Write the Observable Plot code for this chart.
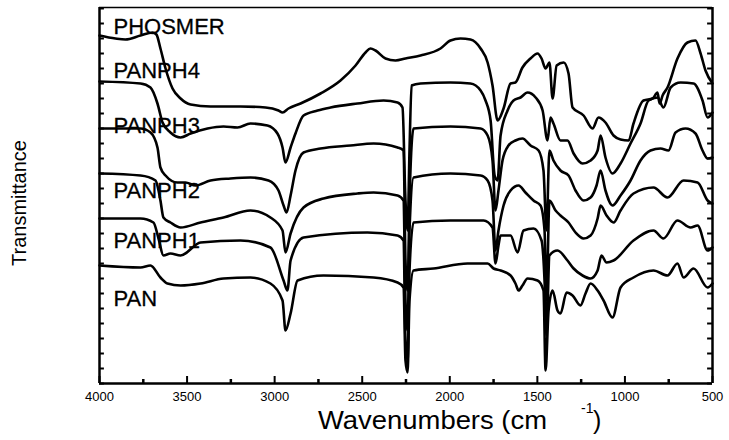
<!DOCTYPE html>
<html><head><meta charset="utf-8">
<script src="https://cdn.jsdelivr.net/npm/d3@7"></script>
<script src="https://cdn.jsdelivr.net/npm/@observablehq/plot@0.6"></script>
<style>body{margin:0;background:#fff}#chart{width:729px;height:440px}</style>
</head><body><div id="chart"></div>
<script>
const seriesNames = ["PHOSMER", "PANPH4", "PANPH3", "PANPH2", "PANPH1", "PAN"];

// [wavenumber (cm-1), transmittance (arb. units, stacked)]
const phosmer = [[4000,348],[3909,345],[3852,344],[3766,348],[3697,351],[3675,349],[3652,335],[3623,315],[3583,295],[3537,285],[3480,279],[3366,277],[3195,277],[3052,276],[2978,273],[2955,271],[2921,275],[2852,280],[2738,290],[2624,303],[2538,318],[2481,331],[2453,335],[2424,333],[2367,325],[2310,323],[2253,325],[2167,328],[2053,335],[1996,343],[1939,345],[1882,344],[1824,335],[1784,321],[1756,298],[1727,263],[1693,275],[1653,300],[1625,301],[1585,316],[1539,325],[1499,330],[1476,325],[1453,315],[1431,321],[1413,285],[1390,318],[1350,321],[1322,310],[1299,276],[1236,268],[1185,255],[1151,266],[1111,261],[1065,248],[1025,244],[979,243],[951,260],[894,283],[842,285],[814,291],[802,280],[785,288],[757,296],[700,325],[643,341],[597,343],[568,330],[540,313],[500,300]];
const panph4 = [[4000,302],[3766,300],[3709,296],[3669,280],[3640,261],[3595,251],[3537,246],[3480,250],[3383,255],[3292,257],[3212,256],[3138,260],[3041,258],[2984,250],[2955,236],[2938,221],[2909,236],[2881,250],[2835,268],[2755,273],[2681,276],[2527,280],[2378,283],[2298,281],[2270,276],[2253,183],[2241,153],[2230,233],[2218,298],[2167,300],[1996,301],[1882,300],[1824,293],[1796,283],[1767,263],[1744,208],[1727,203],[1710,248],[1670,273],[1636,283],[1596,286],[1556,291],[1510,286],[1470,273],[1442,243],[1425,266],[1408,260],[1368,243],[1328,243],[1293,230],[1242,220],[1196,223],[1156,233],[1139,248],[1111,226],[1071,210],[1025,220],[968,240],[911,260],[865,283],[814,286],[780,276],[739,296],[682,301],[608,300],[557,283],[528,266],[500,271]];
const panph3 = [[4000,255],[3766,255],[3709,251],[3669,236],[3652,216],[3623,208],[3555,201],[3509,201],[3452,198],[3366,203],[3252,205],[3138,206],[3035,203],[2978,193],[2949,178],[2932,171],[2909,188],[2881,213],[2835,231],[2738,235],[2567,238],[2435,240],[2298,236],[2264,233],[2253,123],[2241,93],[2230,183],[2207,255],[1996,257],[1824,255],[1784,248],[1756,223],[1739,173],[1722,193],[1699,223],[1665,238],[1625,243],[1585,245],[1539,238],[1493,233],[1465,213],[1448,153],[1431,233],[1408,223],[1368,213],[1322,208],[1282,193],[1236,183],[1196,186],[1162,198],[1139,213],[1111,193],[1071,178],[1025,188],[968,203],[911,223],[854,233],[797,235],[751,233],[711,251],[654,255],[597,250],[557,233],[528,225],[500,226]];
const panph2 = [[4000,210],[3766,208],[3680,203],[3663,193],[3652,183],[3635,166],[3595,161],[3537,156],[3423,161],[3292,166],[3138,173],[3024,166],[2955,153],[2938,131],[2909,150],[2835,176],[2721,185],[2527,190],[2435,191],[2298,188],[2264,183],[2253,83],[2241,53],[2230,153],[2207,206],[1996,210],[1824,208],[1784,203],[1756,183],[1739,133],[1722,153],[1693,178],[1653,193],[1607,198],[1568,191],[1522,183],[1482,178],[1459,153],[1448,83],[1431,183],[1396,173],[1368,168],[1322,161],[1282,151],[1236,145],[1196,148],[1156,165],[1139,178],[1105,168],[1065,161],[1025,173],[951,190],[837,196],[757,186],[665,203],[585,201],[528,183],[500,180]];
const panph1 = [[4000,165],[3766,165],[3692,161],[3663,145],[3635,128],[3595,130],[3537,128],[3423,141],[3195,143],[3024,136],[2949,103],[2927,93],[2909,123],[2835,146],[2470,151],[2298,148],[2264,143],[2253,43],[2241,23],[2230,113],[2207,161],[1996,163],[1807,163],[1756,156],[1739,120],[1722,138],[1710,148],[1653,148],[1613,131],[1579,153],[1522,155],[1476,143],[1459,103],[1448,48],[1431,128],[1385,133],[1328,123],[1293,115],[1242,108],[1196,105],[1156,113],[1134,128],[1105,121],[1065,123],[951,143],[837,153],[780,145],[700,163],[625,156],[585,158],[528,133],[500,136]];
const pan = [[4000,118],[3766,116],[3709,118],[3652,106],[3612,100],[3537,98],[3423,100],[3292,105],[3138,106],[3024,100],[2955,83],[2938,53],[2909,70],[2869,103],[2721,108],[2435,106],[2298,101],[2264,96],[2253,23],[2241,11],[2230,83],[2207,113],[2093,115],[1899,120],[1784,120],[1750,115],[1710,113],[1653,108],[1625,100],[1607,93],[1585,98],[1556,105],[1499,103],[1465,93],[1453,13],[1436,73],[1413,93],[1385,73],[1368,70],[1333,91],[1299,88],[1254,78],[1225,90],[1196,100],[1156,93],[1122,83],[1071,66],[1025,96],[951,106],[837,113],[757,108],[700,120],[665,106],[608,115],[528,96],[500,100]];

const xTicks = [4000, 3500, 3000, 2500, 2000, 1500, 1000, 500];
const xMinorTicks = [3750, 3250, 2750, 2250, 1750, 1250, 750];
const labelT = [357, 313, 258, 193, 143, 85];

const allSeries = [phosmer, panph4, panph3, panph2, panph1, pan];
const rows = [];
allSeries.forEach((s, i) => s.forEach(([wn, t]) => rows.push({series: seriesNames[i], wn, t})));
const labels = seriesNames.map((name, i) => ({name, t: labelT[i]}));
const yTicks = d3.range(0, 377, 15);

const font = "'Liberation Sans', Arial, Helvetica, sans-serif";

const plot = Plot.plot({
  width: 729, height: 440,
  marginLeft: 99, marginRight: 17, marginTop: 7, marginBottom: 57,
  x: {domain: [4000, 500], axis: null},
  y: {domain: [0, 376], axis: null},
  style: {fontFamily: font, color: "black", background: "white"},
  marks: [
    Plot.axisX({ticks: xTicks, tickSize: 0, tickPadding: 8, fontSize: 13, label: null, tickFormat: d => String(d)}),
    Plot.line(rows, {x: "wn", y: "t", z: "series", stroke: "black", strokeWidth: 2.6, strokeLinejoin: "round", strokeLinecap: "round", curve: "monotone-x"}),
    Plot.ruleX(xTicks, {x: d => d, y1: 0, y2: 7, stroke: "black", strokeWidth: 2}),
    Plot.ruleX(xMinorTicks, {x: d => d, y1: 0, y2: 4, stroke: "black", strokeWidth: 2.5}),
    Plot.ruleY(yTicks, {y: d => d, x1: 4000, x2: 3972, stroke: "black", strokeWidth: 2}),
    Plot.ruleY(yTicks, {y: d => d, x1: 500, x2: 528, stroke: "black", strokeWidth: 2}),
    Plot.text(labels, {x: 3920, y: "t", text: "name", textAnchor: "start", fontSize: 22, fill: "black", stroke: "black", strokeWidth: 0.3}),
    Plot.ruleY([376], {stroke: "black", strokeWidth: 1.5}),
    Plot.ruleY([0], {stroke: "black", strokeWidth: 2.5}),
    Plot.ruleX([4000, 500], {stroke: "black", strokeWidth: 2.5})
  ]
});

const svg = d3.select(plot);
const addText = (x, y, size, str, opts = {}) => {
  const t = svg.append("text").attr("x", x).attr("y", y).attr("font-size", size)
    .attr("font-family", font).attr("fill", "black").attr("text-anchor", opts.anchor || "start").text(str);
  if (opts.length) t.attr("textLength", opts.length).attr("lengthAdjust", "spacingAndGlyphs");
  if (opts.transform) t.attr("transform", opts.transform);
  return t;
};
addText(318, 429, 25, "Wavenumbers (cm", {length: 229});
addText(581, 413, 14, "-1");
addText(593, 429, 25, ")");
addText(0, 0, 20, "Transmittance", {anchor: "middle", transform: "translate(26,203) rotate(-90)"});

document.getElementById("chart").appendChild(plot);
</script>
</body></html>
